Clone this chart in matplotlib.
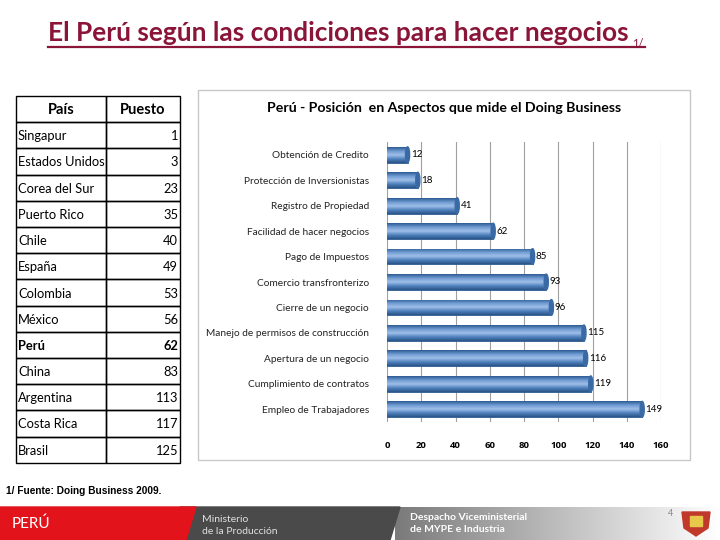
import numpy as np
import matplotlib
matplotlib.use("Agg")
import matplotlib.pyplot as plt
from matplotlib.patches import Rectangle, Polygon

# table data
paises = ["Singapur", "Estados Unidos", "Corea del Sur", "Puerto Rico", "Chile",
          "España", "Colombia", "México", "Perú", "China", "Argentina",
          "Costa Rica", "Brasil"]
puestos = [1, 3, 23, 35, 40, 49, 53, 56, 62, 83, 113, 117, 125]

# chart data
aspectos = ["Obtención de Credito", "Protección de Inversionistas",
            "Registro de Propiedad", "Facilidad de hacer negocios",
            "Pago de Impuestos", "Comercio transfronterizo",
            "Cierre de un negocio", "Manejo de permisos de construcción",
            "Apertura de un negocio", "Cumplimiento de contratos",
            "Empleo de Trabajadores"]
posicion = [12, 18, 41, 62, 85, 93, 96, 115, 116, 119, 149]
xticks = [0, 20, 40, 60, 80, 100, 120, 140, 160]

W, H = 720, 540
fig = plt.figure(figsize=(7.2, 5.4), dpi=100)
plt.rcParams['font.family'] = ['Lato', 'DejaVu Sans']

# overlay axes in pixel coordinates
ov = fig.add_axes([0, 0, 1, 1])
ov.set_xlim(0, W)
ov.set_ylim(H, 0)
ov.axis("off")

# title
ov.text(48, 41, "El Perú según las condiciones para hacer negocios", fontsize=18.9,
        fontweight="bold", color="#8B1538", va="baseline", ha="left")
ov.text(632, 47, "1/", fontsize=8, color="#8B1538", va="baseline", ha="left")
ov.plot([48, 645], [47, 47], color="#8B1538", lw=1.6)

# table
tx0, tx1, tx2 = 16, 106, 180
ty0, rh = 96, 26.2
rows = [("País", "Puesto")] + list(zip(paises, [str(p) for p in puestos]))
tfs = 9.3
for i, (p, v) in enumerate(rows):
    y = ty0 + i * rh
    ov.add_patch(Rectangle((tx0, y), tx1 - tx0, rh, fill=False, ec="black", lw=1))
    ov.add_patch(Rectangle((tx1, y), tx2 - tx1, rh, fill=False, ec="black", lw=1))
    yc = y + rh / 2 + 1
    if i == 0:
        ov.text((tx0 + tx1) / 2, yc, p, fontsize=10.5, fontweight="bold", ha="center", va="center")
        ov.text((tx1 + tx2) / 2, yc, v, fontsize=10.5, fontweight="bold", ha="center", va="center")
    else:
        fw = "bold" if p == "Perú" else "normal"
        ov.text(tx0 + 2, yc, p, fontsize=tfs, fontweight=fw, ha="left", va="center")
        ov.text(tx2 - 2, yc, v, fontsize=tfs, fontweight=fw, ha="right", va="center")

# chart frame and title
ov.add_patch(Rectangle((198, 90), 492, 370, fill=False, ec="#c8c8c8", lw=1))
ov.text(444, 108, "Perú - Posición  en Aspectos que mide el Doing Business", fontsize=10.2,
        fontweight="bold", ha="center", va="center")

# footnote
ov.text(6, 491, "1/ Fuente: Doing Business 2009.", fontsize=7.3, fontweight="bold",
        family=["Liberation Sans", "DejaVu Sans"], ha="left", va="center")

# footer band
grad = np.linspace(0, 1, 256).reshape(1, -1)
ov.imshow(grad, extent=[395, 720, 540, 507], cmap=matplotlib.colors.LinearSegmentedColormap.from_list(
    "g", ["#7a7a7a", "#bdbdbd", "#ffffff"]), aspect="auto", zorder=1)
ov.add_patch(Polygon([(180, 507), (400, 507), (390, 540), (180, 540)], color="#4a4a4a", zorder=2))
ov.add_patch(Polygon([(0, 507), (196, 507), (186, 540), (0, 540)], color="#e3131b", zorder=3))
ov.text(12, 524, "PERÚ", fontsize=11, color="white", ha="left", va="center", zorder=4)
ov.text(202, 519, "Ministerio", fontsize=7.5, color="#e0e0e0", ha="left", va="center", zorder=4)
ov.text(202, 531, "de la Producción", fontsize=7.5, color="#e0e0e0", ha="left", va="center", zorder=4)
ov.text(410, 517, "Despacho Viceministerial", fontsize=7.5, color="white", fontweight="bold",
        ha="left", va="center", zorder=4)
ov.text(410, 530, "de MYPE e Industria", fontsize=7.5, color="white", fontweight="bold",
        ha="left", va="center", zorder=4)
ov.text(673, 514, "4", fontsize=6.5, color="#888888", ha="right", va="center", zorder=4)
ov.add_patch(Polygon([(682, 512), (710, 512), (708, 528), (696, 536), (684, 528)],
                     color="#c0392b", zorder=4))
ov.add_patch(Rectangle((690, 516), 12, 10, color="#e8c84a", zorder=5))

# bar chart axes
left, right, top, bottom = 387, 661, 142, 422
ax = fig.add_axes([left / W, 1 - bottom / H, (right - left) / W, (bottom - top) / H])
ypos = np.arange(len(aspectos))
ax.set_xticks(xticks)
ax.set_xticklabels([str(t) for t in xticks], fontsize=6.8, fontweight="bold",
                   family=["Open Sans", "DejaVu Sans"])
ax.tick_params(axis="x", length=0, pad=14)
ax.set_yticks(ypos)
ax.set_yticklabels(aspectos, fontsize=7.3, color="#222222")
ax.tick_params(axis="y", length=0, pad=13)
ax.grid(axis="x", color="#a0a0a0", lw=0.8)
ax.set_axisbelow(True)
for s in ax.spines.values():
    s.set_visible(False)

cmap = matplotlib.colors.LinearSegmentedColormap.from_list(
    "bar", ["#2c5a93", "#6f9ad2", "#9fbfe8", "#4f81bd", "#2a5488"])
bars = ax.barh(ypos, posicion, height=0.62, color="#4f81bd", edgecolor="#2d5a8e", lw=0.6, zorder=3)
vgrad = np.linspace(0, 1, 64).reshape(-1, 1)
for b in bars:
    x0, y0 = b.get_x(), b.get_y()
    w, h = b.get_width(), b.get_height()
    im = ax.imshow(vgrad, extent=[x0, x0 + w, y0 + h, y0], cmap=cmap, aspect="auto", zorder=3.5)
    im.set_clip_path(b)
    ax.add_patch(matplotlib.patches.Ellipse((x0 + w, y0 + h / 2), 2.4, h, color="#3a6aa5", zorder=4))
for y, v in zip(ypos, posicion):
    ax.text(v + 2, y, str(v), fontsize=7, va="center", ha="left", zorder=5)
ax.set_xlim(0, 160)
ax.set_ylim(len(aspectos) - 0.5, -0.5)

fig.savefig("out.png", dpi=100)
